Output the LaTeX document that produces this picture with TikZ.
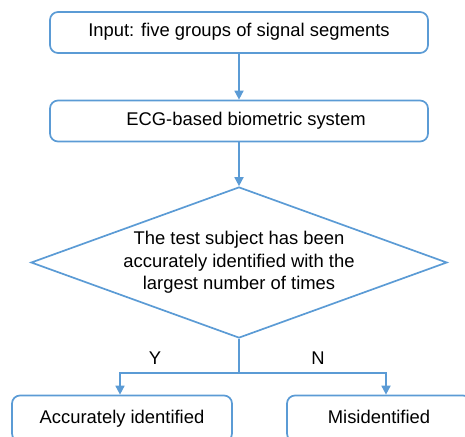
\documentclass[tikz,border=0pt]{standalone}
\usepackage{fontspec}
\setmainfont{Liberation Sans}
\usetikzlibrary{shapes.geometric,arrows.meta}
\definecolor{lineblue}{HTML}{5B9BD5}
\begin{document}
\begin{tikzpicture}[x=1pt,y=1pt,
  txt/.style={font=\fontsize{18.4}{22.5}\selectfont},
  box/.style={txt, draw=lineblue, line width=1.7pt, rounded corners=8pt,
    minimum width=378pt, minimum height=41pt, inner sep=0pt,
    text height=13pt, text depth=4pt},
  dia/.style={txt, draw=lineblue, line width=1.7pt, diamond, aspect=2.75,
    minimum width=416pt, minimum height=151pt, inner sep=0pt, align=center},
  conn/.style={draw=lineblue, line width=1.7pt},
  arr/.style={conn, -{Triangle[length=9pt,width=9pt]}},
  lbl/.style={txt}]
\useasboundingbox (0,0) rectangle (465,-436);
\node[box] (in) at (239,-32.5) {Input: five groups of signal segments};
\node[box] (sys) at (239,-121) {\hspace*{14pt}ECG-based biometric system};
\node[dia] (dec) at (239,-262.5) {The test subject has been\\accurately identified with the\\largest number of times};
\node[box, minimum width=220pt, minimum height=46pt] (acc) at (122,-418.5) {Accurately identified};
\node[box, minimum width=184pt, minimum height=46pt] (mis) at (379,-418.5) {Misidentified};
\coordinate (j) at (239,-373);
\draw[arr] (in) -- (sys);
\draw[arr] (sys) -- (dec);
\draw[conn] (dec.south) -- (j);
\draw[arr] (j) -| ([xshift=-2pt]acc.north);
\draw[arr] (j) -| ([xshift=7pt]mis.north);
\node[lbl] (y) at (155,-358) {Y};
\node[lbl] (n) at (318,-358) {N};
\end{tikzpicture}
\end{document}
